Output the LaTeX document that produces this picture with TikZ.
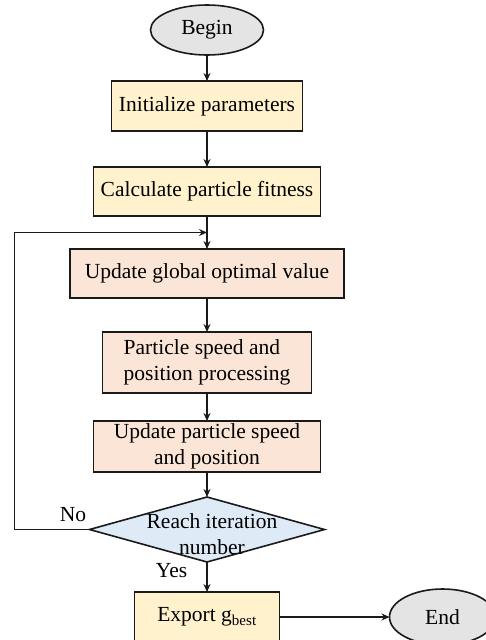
\documentclass[tikz,border=0pt]{standalone}
\usepackage{fontspec}
\setmainfont{Liberation Serif}
\usetikzlibrary{arrows.meta,positioning,shapes.geometric}
\definecolor{Ink}{HTML}{1A1A1A}
\definecolor{Cream}{HTML}{FFF2CC}
\definecolor{Blush}{HTML}{FBE5D6}
\definecolor{Sky}{HTML}{DEEBF7}
\definecolor{Stone}{HTML}{E4E4E4}
\tikzset{
  terminal/.style={
    ellipse, draw=Ink, line width=1.6pt, fill=Stone, outer sep=0pt,
    minimum width=113pt, minimum height=50pt, inner sep=0pt
  },
  stepbox/.style={
    rectangle, draw=Ink, line width=1.6pt, fill=Cream, outer sep=0pt,
    minimum height=50pt, inner sep=2pt, align=center
  },
  procbox/.style={stepbox, fill=Blush},
  decision/.style={
    diamond, draw=Ink, line width=1.6pt, fill=Sky, outer sep=0pt,
    minimum width=235pt, minimum height=65pt, inner sep=0pt
  },
  tag/.style={font=\fontsize{21.5}{26}\selectfont, inner sep=1pt},
  flow/.style={-{Stealth[length=8pt,width=7pt]}, line width=1.6pt, draw=Ink}
}

\begin{document}
\begin{tikzpicture}[x=1pt,y=-1pt,font=\fontsize{21.5}{26}\selectfont]
    \useasboundingbox (0,0) rectangle (485,640);
    \node[terminal] (begin) at (207,30) {Begin};
    \node[stepbox,below=26pt of begin,minimum width=191pt] (init) {Initialize parameters};
    \node[stepbox,below=36pt of init,minimum width=227pt,minimum height=49pt] (fitness) {Calculate particle fitness};
    \node[procbox,below=33pt of fitness,minimum width=274pt,minimum height=49pt] (optimum) {Update global optimal value};
    \node[procbox,below=34pt of optimum,minimum width=209pt,minimum height=61pt,align=left] (process)
      {Particle speed and\\position processing};
    \node[procbox,below=28pt of process,minimum width=227pt,minimum height=51pt] (update)
      {Update particle speed\\and position};
    \node[decision,below=25pt of update,
      label={[tag,align=center,xshift=5pt,yshift=-5pt]center:Reach iteration\\number}] (reach) {};
    \node[stepbox,below=30pt of reach,minimum width=145pt] (export) {Export g\textsubscript{best}};
    \node[terminal,right=110pt of export,minimum width=106pt,minimum height=56pt] (end) {End};
    \coordinate[below=16.5pt of fitness] (back);
    \draw[flow] (begin)--(init);
    \draw[flow] (init)--(fitness);
    \draw[flow] (fitness)--(optimum);
    \draw[flow] (optimum)--(process);
    \draw[flow] (process)--(update);
    \draw[flow] (update)--(reach);
    \draw[flow] (reach.west) -- node[tag,pos=0.22,above=6pt] {No} ++(-75,0) |- (back);
    \draw[flow] (reach) -- node[tag,pos=0.3,left=18pt] {Yes} (export);
    \draw[flow] (export)--(end);
  \end{tikzpicture}
\end{document}
